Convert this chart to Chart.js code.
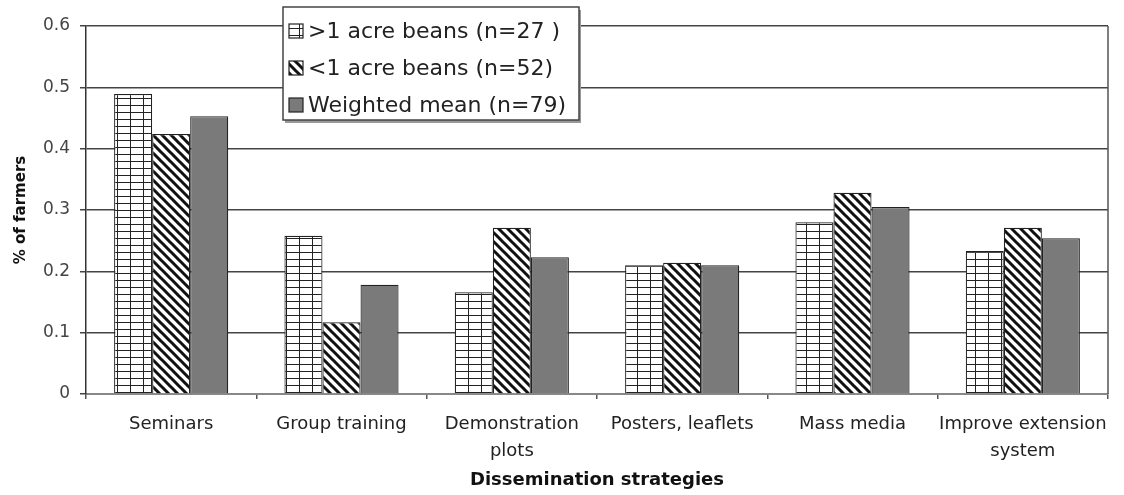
<!DOCTYPE html>
<html>
<head>
<meta charset="utf-8">
<script src="https://cdn.jsdelivr.net/npm/chart.js@4"></script>
<style>
  body { margin: 0; background: #fff; }
  #wrap { width: 1124px; height: 495px; }
</style>
</head>
<body>
<div id="wrap"><canvas id="beanChart" width="1124" height="495"></canvas></div>
<script>
// categories and values
const categories = ['Seminars', 'Group training', ['Demonstration', 'plots'], 'Posters, leaflets', 'Mass media', ['Improve extension', 'system']];
const seriesLabels = ['>1 acre beans (n=27 )', '<1 acre beans (n=52)', 'Weighted mean (n=79)'];
const largeFarms = [0.489, 0.258, 0.166, 0.210, 0.280, 0.233];
const smallFarms = [0.424, 0.117, 0.271, 0.214, 0.328, 0.271];
const weightedMean = [0.453, 0.178, 0.223, 0.210, 0.305, 0.254];
const yTicks = [0, 0.1, 0.2, 0.3, 0.4, 0.5, 0.6];

const FONT = '"DejaVu Sans", "Liberation Sans", Arial, sans-serif';
const ctx = document.getElementById('beanChart').getContext('2d');

// grid fill for the >1 acre bars
function gridPattern() {
    const c = document.createElement('canvas');
    c.width = 13; c.height = 7;
    const g = c.getContext('2d');
    g.fillStyle = '#fff';
    g.fillRect(0, 0, 13, 7);
    g.fillStyle = '#222';
    g.fillRect(0, 0, 1, 7);
    g.fillRect(0, 0, 13, 1);
    return ctx.createPattern(c, 'repeat');
}

// backslash stripes for the <1 acre bars
function stripePattern() {
    const s = 9;
    const c = document.createElement('canvas');
    c.width = s; c.height = s;
    const g = c.getContext('2d');
    g.fillStyle = '#fff';
    g.fillRect(0, 0, s, s);
    g.strokeStyle = '#111';
    g.lineWidth = 3;
    g.beginPath();
    g.moveTo(-2, -2); g.lineTo(s + 2, s + 2);
    g.moveTo(s - 2, -2); g.lineTo(2 * s + 2, s + 2);
    g.moveTo(-2 - s, -2); g.lineTo(2, s + 2);
    g.stroke();
    return ctx.createPattern(c, 'repeat');
}

const fills = [gridPattern(), stripePattern(), '#7a7a7a'];

// boxed legend sitting inside the plot, plus the right frame line
const boxLegend = {
    id: 'boxLegend',
    afterDatasetsDraw(chart) {
        const c = chart.ctx;
        const a = chart.chartArea;
        c.save();
        c.strokeStyle = '#555';
        c.lineWidth = 1.5;
        c.beginPath();
        c.moveTo(a.right, a.top);
        c.lineTo(a.right, a.bottom);
        c.stroke();

        const x = a.left + 197, y = 7, w = 296, h = 113;
        c.fillStyle = '#999';
        c.fillRect(x + 2, y + 3, w, h);
        c.fillStyle = '#fff';
        c.fillRect(x, y, w, h);
        c.strokeStyle = '#444';
        c.lineWidth = 1.5;
        c.strokeRect(x, y, w, h);

        c.font = '22px ' + FONT;
        c.textBaseline = 'middle';
        const widest = Math.max(...chart.data.datasets.map(d => c.measureText(d.label).width));
        const sx = Math.min(1, 262 / widest);
        chart.data.datasets.forEach((ds, i) => {
            const ry = y + 24 + i * 37;
            c.fillStyle = ds.backgroundColor;
            c.fillRect(x + 6, ry - 7, 14, 14);
            c.strokeStyle = '#222';
            c.lineWidth = 1.2;
            c.strokeRect(x + 6, ry - 7, 14, 14);
            c.save();
            c.translate(x + 25, ry + 1);
            c.scale(sx, 1);
            c.fillStyle = '#222';
            c.fillText(ds.label, 0, 0);
            c.restore();
        });
        c.restore();
    }
};

const chart = new Chart(ctx, {
    type: 'bar',
    data: {
        labels: categories,
        datasets: [
            { label: seriesLabels[0], data: largeFarms, backgroundColor: fills[0] },
            { label: seriesLabels[1], data: smallFarms, backgroundColor: fills[1] },
            { label: seriesLabels[2], data: weightedMean, backgroundColor: fills[2] }
        ]
    },
    options: {
        responsive: false,
        animation: false,
        layout: { padding: { top: 26, right: 16, left: 0, bottom: 0 } },
        datasets: {
            bar: {
                borderColor: '#222',
                borderWidth: 1.2,
                categoryPercentage: 0.67,
                barPercentage: 1.0
            }
        },
        plugins: {
            legend: { display: false },
            tooltip: { enabled: false }
        },
        scales: {
            x: {
                afterFit: (scale) => { scale.height = 101; },
                grid: { display: true, drawOnChartArea: false, offset: true, tickLength: 5, color: '#555', lineWidth: 1.5 },
                border: { color: '#888', width: 2 },
                ticks: {
                    color: '#222',
                    padding: 12,
                    maxRotation: 0,
                    autoSkip: false,
                    font: { family: FONT, size: 18, lineHeight: 1.5 }
                },
                title: {
                    display: true,
                    text: 'Dissemination strategies',
                    color: '#111',
                    padding: { top: 0, bottom: 4 },
                    font: { family: FONT, size: 18, weight: 'bold' }
                }
            },
            y: {
                min: 0,
                max: 0.6,
                afterFit: (scale) => { scale.width = 86; },
                afterBuildTicks: (scale) => { scale.ticks = yTicks.map(v => ({ value: v })); },
                grid: { color: '#444', lineWidth: 1.5, tickLength: 6 },
                border: { color: '#333', width: 1.5 },
                ticks: {
                    color: '#444',
                    padding: 10,
                    font: { family: FONT, size: 17 }
                },
                title: {
                    display: true,
                    text: '% of farmers',
                    color: '#111',
                    padding: { top: 12, bottom: 0 },
                    font: { family: FONT, size: 15, weight: 'bold' }
                }
            }
        }
    },
    plugins: [boxLegend]
});
</script>
</body>
</html>
